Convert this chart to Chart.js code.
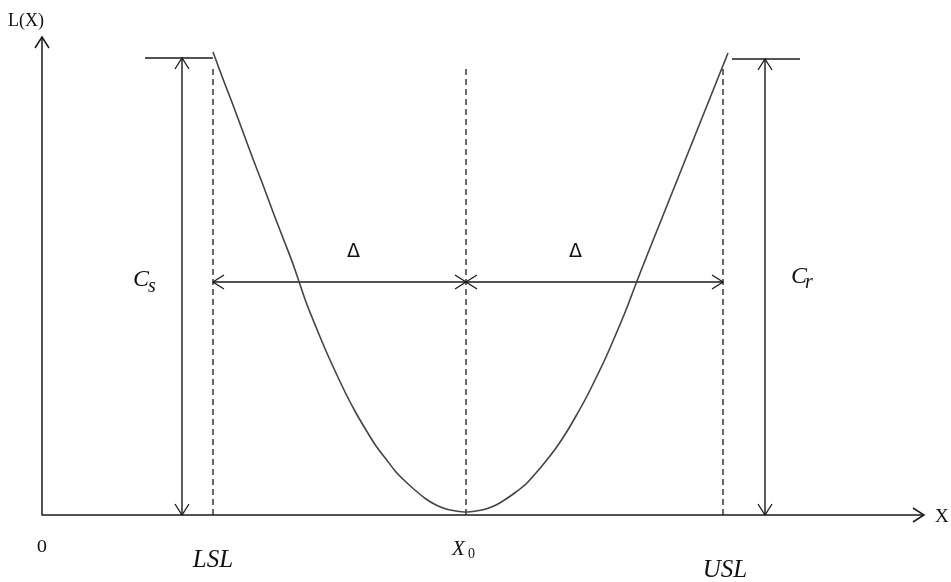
<!DOCTYPE html>
<html>
<head>
<meta charset="utf-8">
<script src="https://cdn.jsdelivr.net/npm/chart.js@4"></script>
<style>
  body { margin: 0; background: #fff; }
  #wrap { width: 951px; height: 582px; }
</style>
</head>
<body>
<div id="wrap"><canvas id="chart" width="951" height="582"></canvas></div>
<script>
// loss curve L(X) (x from the origin, y = loss)
const curveX = [171, 181, 191, 201, 211, 221, 231, 241, 251, 264, 274, 284, 294, 304, 314, 324, 334, 344, 354, 364, 374, 384, 394, 404, 414, 424,
                434, 444, 454, 464, 474, 484, 494, 504, 514, 524, 534, 544, 554, 564, 574, 584, 595, 604, 614, 624, 634, 644, 654, 664, 674, 686];
const curveY = [463, 436, 410, 383, 356, 330, 303, 277, 251, 213, 188, 164, 142, 121, 102, 85, 69, 56, 43, 33, 24, 16, 10, 6, 4, 3,
                4, 6, 10, 16, 23, 31, 42, 54, 67, 82, 99, 117, 137, 158, 181, 205, 234, 257, 282, 307, 332, 357, 382, 407, 432, 462];

// specification limits and target
const specNames = ['LSL', 'X0', 'USL'];
const specValues = [171, 424, 681];

// costs (scrap / rework) and their marker positions
const costLevels = [457, 456];
const costArrowX = [140, 723];
const shoulderLeft = [103, 171];
const shoulderRight = [690, 758];

const dashTop = 447;
const deltaLevel = 233;
const xMax = 882;
const yMax = 478;

function pts(xs, ys) {
    return xs.map((x, i) => ({ x, y: ys[i] }));
}

function lineSet(data, opts) {
    return Object.assign({
        data,
        showLine: true,
        borderColor: '#1a1a1a',
        borderWidth: 1.4,
        pointRadius: 0,
        fill: false,
        tension: 0
    }, opts || {});
}

const datasets = [
    lineSet(pts(curveX, curveY), { borderColor: '#444', borderWidth: 1.6, tension: 0.3 }),
    lineSet(pts(shoulderLeft, [costLevels[0], costLevels[0]])),
    lineSet(pts(shoulderRight, [costLevels[1], costLevels[1]])),
    lineSet(pts([costArrowX[0], costArrowX[0]], [costLevels[0], 0])),
    lineSet(pts([costArrowX[1], costArrowX[1]], [costLevels[1], 0])),
    lineSet(pts([specValues[0], specValues[2]], [deltaLevel, deltaLevel]))
];
specValues.forEach(v => {
    datasets.push(lineSet(pts([v, v], [0, dashTop]), { borderDash: [6, 4], borderWidth: 1.3 }));
});

function arrowHead(ctx, x, y, dir) {
    const len = 11, half = 7;
    const ang = { up: -Math.PI / 2, down: Math.PI / 2, left: Math.PI, right: 0 }[dir];
    const c = Math.cos(ang), s = Math.sin(ang);
    ctx.beginPath();
    ctx.moveTo(x - len * c - half * s, y - len * s + half * c);
    ctx.lineTo(x, y);
    ctx.lineTo(x - len * c + half * s, y - len * s - half * c);
    ctx.stroke();
}

const diagramPlugin = {
    id: 'diagram',
    afterDatasetsDraw(chart) {
        const { ctx, scales: { x, y } } = chart;
        const px = v => x.getPixelForValue(v);
        const py = v => y.getPixelForValue(v);
        ctx.save();
        ctx.strokeStyle = '#1a1a1a';
        ctx.lineWidth = 1.5;

        // axes
        ctx.beginPath();
        ctx.moveTo(px(0), py(yMax));
        ctx.lineTo(px(0), py(0));
        ctx.lineTo(px(xMax), py(0));
        ctx.stroke();
        arrowHead(ctx, px(0), py(yMax), 'up');
        arrowHead(ctx, px(xMax), py(0), 'right');

        // cost dimension arrows
        ctx.lineWidth = 1.3;
        costArrowX.forEach((cx, i) => {
            arrowHead(ctx, px(cx), py(costLevels[i]), 'up');
            arrowHead(ctx, px(cx), py(0), 'down');
        });

        // delta arrows
        arrowHead(ctx, px(specValues[0]), py(deltaLevel), 'left');
        arrowHead(ctx, px(specValues[1]), py(deltaLevel), 'right');
        arrowHead(ctx, px(specValues[1]), py(deltaLevel), 'left');
        arrowHead(ctx, px(specValues[2]), py(deltaLevel), 'right');

        // text
        ctx.fillStyle = '#111';
        ctx.textBaseline = 'alphabetic';
        ctx.textAlign = 'left';
        ctx.font = '18px "Liberation Serif"';
        ctx.fillText('L(X)', 8, 26);
        ctx.font = '19px "Liberation Serif"';
        ctx.fillText('X', px(xMax) + 11, py(0) + 7);
        ctx.textAlign = 'center';
        ctx.font = '17px "DejaVu Serif"';
        ctx.fillText('0', px(0), py(0) + 37);

        ctx.font = 'italic 25px "Liberation Serif"';
        ctx.fillText('LSL', px(specValues[0]), py(0) + 52);
        ctx.fillText('USL', px(specValues[2]) + 2, py(0) + 62);

        // X0 with subscript
        ctx.textAlign = 'left';
        ctx.font = 'italic 21px "Liberation Serif"';
        ctx.fillText('X', px(specValues[1]) - 14, py(0) + 40);
        ctx.font = '14px "Liberation Serif"';
        ctx.fillText('0', px(specValues[1]) + 2, py(0) + 43);

        // C_s and C_r
        ctx.font = 'italic 24px "Liberation Serif"';
        ctx.fillText('C', px(costArrowX[0]) - 49, py(deltaLevel) + 4);
        ctx.fillText('C', px(costArrowX[1]) + 26, py(deltaLevel) + 1);
        ctx.font = 'italic 20px "Liberation Serif"';
        ctx.fillText('s', px(costArrowX[0]) - 34, py(deltaLevel) + 10);
        ctx.fillText('r', px(costArrowX[1]) + 40, py(deltaLevel) + 6);

        // deltas
        ctx.textAlign = 'center';
        ctx.font = '19px "DejaVu Sans"';
        ctx.fillText('\u0394', (px(specValues[0]) + px(specValues[1])) / 2 + 14, py(deltaLevel) - 25);
        ctx.fillText('\u0394', (px(specValues[1]) + px(specValues[2])) / 2 - 19, py(deltaLevel) - 25);
        ctx.restore();
    }
};

new Chart(document.getElementById('chart'), {
    type: 'scatter',
    data: { datasets },
    options: {
        responsive: false,
        animation: false,
        layout: { padding: { left: 42, top: 37, right: 27, bottom: 67 } },
        scales: {
            x: { type: 'linear', min: 0, max: xMax, display: false },
            y: { type: 'linear', min: 0, max: yMax, display: false }
        },
        plugins: {
            legend: { display: false },
            tooltip: { enabled: false }
        }
    },
    plugins: [diagramPlugin]
});
</script>
</body>
</html>
